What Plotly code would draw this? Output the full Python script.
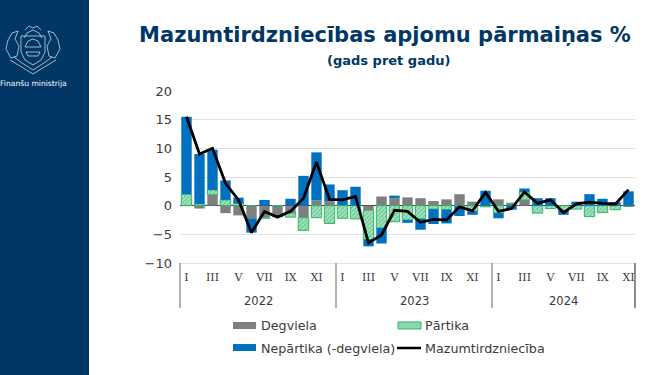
import plotly.graph_objects as go

months = ['I', 'II', 'III', 'IV', 'V', 'VI', 'VII', 'VIII', 'IX', 'X', 'XI', 'XII']
years = ['2022', '2023', '2024']
month_labels = [f'{y} {m}' for y in years for m in months][:35]

degviela = [0, -0.5, 1.9, -1.3, -1.7, -2.2, -2.0, -1.6, -1.3, -2.1, 0.9, 0.8,
            0.1, 0, -0.8, 1.6, 1.3, 1.45, 1.3, 0.8, 1.1, 2.0, 0.7, 0,
            1.1, 0.4, 1.0, 0, 0, 0, 0, 0, 0, 0, -0.2]
partika = [2.0, 0.3, 0.85, 1.0, 0.4, 0, -0.2, 0, -0.7, -2.2, -2.1, -3.1,
           -2.2, -2.3, -5.1, -3.9, -2.8, -2.5, -2.3, -0.6, -0.7, -0.1, -1.0, -0.2,
           -1.3, 0, 1.4, -1.3, -0.5, -0.8, -0.6, -1.9, -1.2, -0.7, 0]
neparttika = [13.5, 8.7, 7.0, 3.4, 1.0, -2.5, 1.0, -0.4, 1.2, 5.2, 8.4, 2.9,
              2.6, 3.3, -1.2, -2.7, 0.45, -0.5, -1.9, -2.6, -2.4, -1.7, -0.6, 2.6,
              -0.9, -0.7, 0.6, 1.3, 1.3, -0.8, 0.7, 2.0, 1.2, 0.6, 2.5]
mazumtirdznieciba = [15.5, 9.0, 10.0, 3.9, 1.0, -4.7, -1.0, -2.0, -1.0, 1.3, 7.6, 1.1,
                     1.0, 1.6, -6.5, -5.1, -0.8, -1.0, -2.9, -2.4, -2.5, -0.2, -0.9, 2.3,
                     -1.0, -0.5, 2.4, 0.4, 1.0, -1.2, 0.3, 0.6, 0.4, 0.3, 2.8]

NAVY = '#003764'
TEXT = '#3a3a3a'
GREY = '#7f7f7f'
BLUE = '#0070c0'
GREEN = '#2fb36a'

# plot area in pixels, used to place the furniture outside the axes
L, R, T, B = 180, 635, 91, 263


def px(x):
    return (x - L) / (R - L)


def py(y):
    return (B - y) / (B - T)


def path(points, close=False):
    d = 'M' + ' L'.join(f'{px(x):.4f},{py(y):.4f}' for x, y in points)
    return d + (' Z' if close else '')


def label(text, x, y, size, color=TEXT, anchor='center'):
    return dict(text=text, xref='paper', yref='paper', x=px(x), y=py(y), showarrow=False,
                xanchor=anchor, yanchor='middle', font=dict(family='DejaVu Sans', size=size, color=color))


def rect(x0, x1, y0, y1, fill, line=0, line_color=None):
    return dict(type='rect', xref='paper', yref='paper', x0=px(x0), x1=px(x1), y0=py(y1), y1=py(y0),
                fillcolor=fill, line=dict(width=line, color=line_color))


fig = go.Figure()
fig.add_trace(go.Bar(x=month_labels, y=degviela, name='Degviela', marker=dict(color=GREY, line_width=0)))
fig.add_trace(go.Bar(x=month_labels, y=partika, name='Pārtika',
                     marker=dict(color='#a8e3c2', line=dict(color=GREEN, width=1),
                                 pattern=dict(shape='/', fgcolor=GREEN, bgcolor='#b5e8cb', size=3, solidity=0.6))))
fig.add_trace(go.Bar(x=month_labels, y=neparttika, name='Nepārtika (-degviela)',
                     marker=dict(color=BLUE, line_width=0)))
fig.add_trace(go.Scatter(x=month_labels, y=mazumtirdznieciba, name='Mazumtirdzniecība', mode='lines',
                         line=dict(color='black', width=2.8)))

# left band with the ministry emblem
shapes = [rect(-5, 89, -5, 380, NAVY)]
emblem = dict(color='#c9d6e4', width=0.8)
emblem_paths = [
    ([(21, 36), (21, 52), (25, 60), (33, 65), (41, 60), (45, 52), (45, 36)], True),
    ([(25, 47), (28, 41), (33, 39), (38, 41), (41, 47), (25, 47)], False),
    ([(24, 38), (27, 33), (33, 30), (39, 33), (42, 38)], False),
    ([(26, 52), (40, 52), (38, 56), (28, 56)], True),
    ([(25, 30), (29, 26), (33, 28), (37, 26), (41, 30)], False),
    ([(6, 49), (8, 40), (12, 33), (18, 31), (15, 39), (19, 46), (17, 56), (11, 58)], True),
    ([(60, 49), (58, 40), (54, 33), (48, 31), (51, 39), (47, 46), (49, 56), (55, 58)], True),
    ([(10, 60), (20, 66), (33, 74), (46, 66), (56, 60)], False),
    ([(14, 57), (22, 63), (33, 70), (44, 63), (52, 57)], False),
]
for points, closed in emblem_paths:
    shapes.append(dict(type='path', xref='paper', yref='paper', line=emblem, path=path(points, closed)))

# year separators under the axis
for x in [L, 336, 492, R]:
    shapes.append(dict(type='line', xref='paper', yref='paper', x0=px(x), x1=px(x), y0=py(B), y1=py(308),
                       line=dict(color='#808080' if x != R else '#404040', width=1.2)))

# legend swatches
shapes += [
    rect(233, 256, 322, 329, GREY),
    rect(398, 421, 322, 329, '#8fd9ae', 1, GREEN),
    rect(233, 256, 344, 351, BLUE),
    dict(type='line', xref='paper', yref='paper', x0=px(397), x1=px(421), y0=py(348), y1=py(348),
         line=dict(color='black', width=2.5)),
]

annotations = [
    label('Finanšu ministrija', 33.5, 84, 7.6, 'white'),
    label('<b>(gads pret gadu)</b>', 388, 61, 13, NAVY),
    label('Degviela', 259, 325.5, 12.7, anchor='left'),
    label('Pārtika', 423, 325.5, 12.7, anchor='left'),
    label('Nepārtika (-degviela)', 259, 348, 12.7, anchor='left'),
    label('Mazumtirdzniecība', 423, 348, 12.7, anchor='left'),
]
for year, x in zip(years, [258, 414, 563]):
    annotations.append(label(year, x, 301, 11.5))

fig.update_layout(
    width=665, height=375,
    margin=dict(l=L, r=665 - R, t=T, b=375 - B, pad=0),
    paper_bgcolor='white', plot_bgcolor='white',
    barmode='relative', bargap=0.2, showlegend=False,
    font=dict(family='DejaVu Sans', color=TEXT),
    title=dict(text='<b>Mazumtirdzniecības apjomu pārmaiņas %</b>', x=px(385), xanchor='center',
               xref='paper', y=1 - 35 / 375, yanchor='middle', font=dict(size=21, color=NAVY)),
    shapes=shapes, annotations=annotations,
)
fig.update_yaxes(range=[-10, 20], dtick=5, gridcolor='#e2e2e2', gridwidth=1, zeroline=True, zerolinecolor='#404040',
                 zerolinewidth=1.2, showline=False, ticks='', tickfont=dict(size=13, color=TEXT),
                 ticklabelstandoff=7)
fig.update_xaxes(type='category', tickvals=month_labels[::2], ticktext=[m for _ in years for m in months[::2]][:18],
                 range=[-0.5, 34.5], showgrid=False, showline=True, linecolor='#e2e2e2', ticks='',
                 tickfont=dict(family='DejaVu Serif', size=11, color=TEXT), ticklabelstandoff=4)

fig.write_html('out.html', post_script="document.body.style.margin='0';", config=dict(displayModeBar=False))
